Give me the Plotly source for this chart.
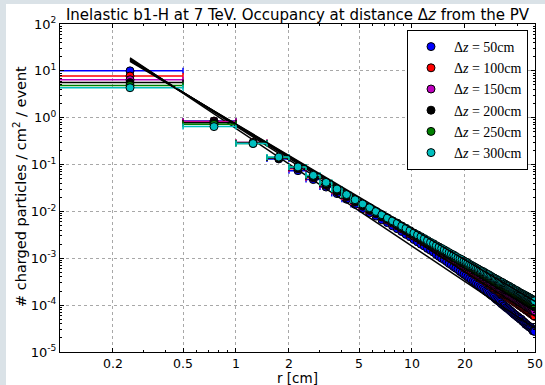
import plotly.graph_objects as go

# ---- data (values are log10 of the occupancy) ----
bin_lo = [0.5 * i for i in range(100)]          # 0.5 cm radial bins, 0 .. 50 cm
bin_half = 0.25
r_centers = [b + bin_half for b in bin_lo]

log10_occ_dz50 = [
    1.00, -0.07, -0.53, -0.88, -1.13, -1.32, -1.48, -1.62, -1.74, -1.85,
    -1.94, -2.03, -2.10, -2.18, -2.24, -2.31, -2.37, -2.43, -2.49, -2.54,
    -2.60, -2.65, -2.70, -2.74, -2.79, -2.83, -2.87, -2.92, -2.96, -3.00,
    -3.03, -3.07, -3.11, -3.14, -3.18, -3.21, -3.24, -3.28, -3.31, -3.34,
    -3.37, -3.40, -3.43, -3.46, -3.49, -3.51, -3.54, -3.57, -3.60, -3.62,
    -3.65, -3.67, -3.70, -3.72, -3.74, -3.77, -3.79, -3.81, -3.83, -3.86,
    -3.88, -3.90, -3.92, -3.94, -3.97, -3.98, -4.01, -4.02, -4.05, -4.06,
    -4.08, -4.10, -4.12, -4.14, -4.16, -4.18, -4.20, -4.21, -4.23, -4.25,
    -4.26, -4.28, -4.30, -4.30, -4.33, -4.35, -4.36, -4.38, -4.41, -4.41,
    -4.43, -4.44, -4.46, -4.47, -4.47, -4.50, -4.52, -4.55, -4.55, -4.56]
log10_occ_dz100 = [
    0.89, -0.08, -0.53, -0.86, -1.09, -1.28, -1.44, -1.57, -1.69, -1.80,
    -1.89, -1.98, -2.05, -2.12, -2.19, -2.25, -2.31, -2.37, -2.42, -2.48,
    -2.53, -2.57, -2.62, -2.66, -2.70, -2.74, -2.78, -2.82, -2.86, -2.89,
    -2.93, -2.96, -2.99, -3.02, -3.05, -3.08, -3.11, -3.14, -3.17, -3.20,
    -3.22, -3.25, -3.27, -3.30, -3.32, -3.35, -3.37, -3.40, -3.42, -3.44,
    -3.46, -3.48, -3.50, -3.53, -3.55, -3.57, -3.59, -3.61, -3.63, -3.65,
    -3.66, -3.68, -3.70, -3.72, -3.74, -3.75, -3.77, -3.79, -3.80, -3.82,
    -3.84, -3.85, -3.87, -3.88, -3.90, -3.91, -3.93, -3.94, -3.96, -3.97,
    -3.99, -4.00, -4.02, -4.03, -4.04, -4.06, -4.07, -4.08, -4.10, -4.11,
    -4.12, -4.13, -4.15, -4.16, -4.17, -4.19, -4.20, -4.21, -4.22, -4.24]
log10_occ_dz150 = [
    0.81, -0.09, -0.54, -0.86, -1.08, -1.27, -1.43, -1.56, -1.68, -1.79,
    -1.88, -1.96, -2.04, -2.10, -2.17, -2.23, -2.29, -2.34, -2.40, -2.45,
    -2.49, -2.54, -2.58, -2.62, -2.66, -2.70, -2.74, -2.78, -2.81, -2.85,
    -2.88, -2.91, -2.94, -2.97, -3.00, -3.03, -3.06, -3.09, -3.11, -3.14,
    -3.16, -3.19, -3.21, -3.23, -3.26, -3.28, -3.30, -3.33, -3.35, -3.37,
    -3.39, -3.41, -3.43, -3.45, -3.47, -3.49, -3.51, -3.53, -3.54, -3.56,
    -3.58, -3.60, -3.61, -3.63, -3.65, -3.66, -3.68, -3.69, -3.71, -3.73,
    -3.74, -3.76, -3.77, -3.78, -3.80, -3.81, -3.83, -3.84, -3.86, -3.87,
    -3.88, -3.90, -3.91, -3.92, -3.94, -3.95, -3.96, -3.97, -3.99, -4.00,
    -4.01, -4.02, -4.03, -4.05, -4.06, -4.07, -4.08, -4.09, -4.10, -4.12]
log10_occ_dz200 = [
    0.75, -0.11, -0.54, -0.86, -1.07, -1.26, -1.42, -1.55, -1.67, -1.78,
    -1.87, -1.96, -2.03, -2.10, -2.16, -2.22, -2.28, -2.34, -2.39, -2.44,
    -2.48, -2.53, -2.57, -2.61, -2.65, -2.69, -2.72, -2.76, -2.79, -2.83,
    -2.86, -2.89, -2.92, -2.95, -2.98, -3.00, -3.03, -3.06, -3.08, -3.11,
    -3.13, -3.16, -3.18, -3.20, -3.22, -3.25, -3.27, -3.29, -3.31, -3.33,
    -3.35, -3.37, -3.39, -3.41, -3.42, -3.44, -3.46, -3.48, -3.50, -3.51,
    -3.53, -3.55, -3.56, -3.58, -3.59, -3.61, -3.62, -3.64, -3.65, -3.67,
    -3.68, -3.70, -3.71, -3.72, -3.74, -3.75, -3.77, -3.78, -3.79, -3.80,
    -3.82, -3.83, -3.84, -3.86, -3.87, -3.88, -3.89, -3.90, -3.92, -3.93,
    -3.94, -3.95, -3.96, -3.97, -3.98, -3.99, -4.00, -4.01, -4.02, -4.04]
log10_occ_dz250 = [
    0.69, -0.14, -0.55, -0.85, -1.05, -1.24, -1.39, -1.53, -1.65, -1.75,
    -1.84, -1.93, -2.01, -2.08, -2.14, -2.21, -2.26, -2.32, -2.37, -2.42,
    -2.47, -2.51, -2.56, -2.60, -2.64, -2.68, -2.71, -2.74, -2.78, -2.81,
    -2.84, -2.87, -2.90, -2.93, -2.96, -2.99, -3.01, -3.04, -3.06, -3.09,
    -3.11, -3.14, -3.16, -3.18, -3.20, -3.22, -3.24, -3.27, -3.28, -3.30,
    -3.32, -3.34, -3.36, -3.38, -3.39, -3.41, -3.43, -3.45, -3.46, -3.48,
    -3.50, -3.51, -3.53, -3.54, -3.56, -3.57, -3.59, -3.60, -3.62, -3.63,
    -3.64, -3.66, -3.67, -3.68, -3.70, -3.71, -3.72, -3.73, -3.75, -3.76,
    -3.77, -3.78, -3.79, -3.81, -3.82, -3.83, -3.84, -3.85, -3.86, -3.87,
    -3.89, -3.89, -3.90, -3.92, -3.93, -3.94, -3.94, -3.96, -3.96, -3.98]
log10_occ_dz300 = [
    0.64, -0.19, -0.55, -0.84, -1.05, -1.23, -1.38, -1.52, -1.64, -1.75,
    -1.84, -1.92, -2.00, -2.07, -2.14, -2.20, -2.25, -2.31, -2.36, -2.41,
    -2.46, -2.50, -2.54, -2.58, -2.62, -2.66, -2.69, -2.73, -2.76, -2.79,
    -2.82, -2.85, -2.88, -2.91, -2.93, -2.96, -2.99, -3.01, -3.03, -3.06,
    -3.08, -3.10, -3.13, -3.15, -3.17, -3.19, -3.21, -3.23, -3.25, -3.27,
    -3.28, -3.30, -3.32, -3.34, -3.35, -3.37, -3.39, -3.41, -3.42, -3.44,
    -3.45, -3.47, -3.48, -3.50, -3.51, -3.52, -3.54, -3.55, -3.57, -3.58,
    -3.59, -3.60, -3.62, -3.63, -3.64, -3.66, -3.67, -3.68, -3.69, -3.70,
    -3.72, -3.73, -3.74, -3.75, -3.76, -3.77, -3.78, -3.79, -3.80, -3.81,
    -3.82, -3.83, -3.84, -3.85, -3.86, -3.87, -3.88, -3.89, -3.90, -3.91]

series_names = ["50", "100", "150", "200", "250", "300"]
series_logs = [log10_occ_dz50, log10_occ_dz100, log10_occ_dz150,
               log10_occ_dz200, log10_occ_dz250, log10_occ_dz300]
series_colors = ["#0000ff", "#ff0000", "#bf00bf", "#000000", "#008000", "#00bfbf"]

# power-law fit lines: endpoints (r, occupancy)
fit_r = [0.25, 50.0]
fit_start = [19.0, 18.0, 17.5, 17.0, 16.5, 16.0]
fit_end = [3.2e-5, 5.8e-5, 7.5e-5, 9.0e-5, 1.05e-4, 1.2e-4]

x_tick_vals = [0.2, 0.5, 1, 2, 5, 10, 20, 50]
x_tick_text = ["0.2", "0.5", "1", "2", "5", "10", "20", "50"]
x_minor_vals = [0.3, 0.4, 0.6, 0.7, 0.8, 0.9, 3, 4, 6, 7, 8, 9, 30, 40]
y_exps = [-5, -4, -3, -2, -1, 0, 1, 2]

fig = go.Figure()
for name, logs, col, s0, s1 in zip(series_names, series_logs, series_colors,
                                     fit_start, fit_end):
    assert len(logs) == len(r_centers)
    occ = [10 ** v for v in logs]
    minus = [bin_half] * len(r_centers)
    minus[0] = 0.2  # first bin starts at r=0 (off the log axis)
    fig.add_trace(go.Scatter(
        x=r_centers, y=occ, mode="markers",
        name="Δ<i>z</i> = " + name + "cm",
        marker=dict(symbol="circle", size=8, color=col,
                    line=dict(color="black", width=1)),
        error_x=dict(type="data", symmetric=False, array=[bin_half] * len(r_centers),
                     arrayminus=minus, color=col, thickness=1.5, width=3),
    ))
    fig.add_trace(go.Scatter(
        x=fit_r, y=[s0, s1], mode="lines", showlegend=False,
        line=dict(color="black", width=1.5), hoverinfo="skip",
    ))

L, R, T, B = 60, 10, 24, 33
W, H = 545, 385
pw, ph = W - L - R, H - T - B

def px_x(p):
    return (p - L) / pw

def px_y(p):
    return (H - B - p) / ph

gray = "#dae2e7"
fig.update_layout(
    width=W, height=H,
    margin=dict(l=L, r=R, t=T, b=B, autoexpand=False),
    paper_bgcolor="white", plot_bgcolor="white",
    font=dict(family="DejaVu Sans", size=13, color="black"),
    title=dict(text="Inelastic b1-H at 7 TeV. Occupancy at distance Δ<i>z</i> from the PV",
               x=0.5, xref="paper", xanchor="center",
               y=1 - 14.5 / H, yref="container", yanchor="middle",
               font=dict(family="DejaVu Sans", size=15, color="black")),
    showlegend=True,
    legend=dict(x=px_x(528), xanchor="right", y=px_y(30), yanchor="top",
                bgcolor="white", bordercolor="black", borderwidth=1,
                font=dict(family="Liberation Serif", size=14, color="black"),
                itemwidth=36),
    xaxis=dict(type="log", range=[-1, 1.69897],
               tickmode="array", tickvals=x_tick_vals, ticktext=x_tick_text,
               ticks="inside", ticklen=4, tickcolor="black",
               showline=True, linecolor="black", linewidth=1, mirror="ticks",
               showgrid=True, gridcolor="#a8a8a8", griddash="dot", gridwidth=1,
               zeroline=False, tickfont=dict(size=12.5),
               minor=dict(tickvals=x_minor_vals, ticks="inside", ticklen=2,
                          tickcolor="black", showgrid=False)),
    yaxis=dict(type="log", range=[-5, 2],
               tickmode="array", tickvals=[10.0 ** e for e in y_exps],
               ticktext=["10<sup>%s</sup>" % e for e in y_exps],
               ticks="inside", ticklen=4, tickcolor="black",
               showline=True, linecolor="black", linewidth=1, mirror="ticks",
               showgrid=True, gridcolor="#a8a8a8", griddash="dot", gridwidth=1,
               zeroline=False, tickfont=dict(size=13),
               minor=dict(tickvals=[m * 10.0 ** e for e in y_exps[:-1] for m in range(2, 10)],
                          ticks="inside", ticklen=2, tickcolor="black", showgrid=False)),
    shapes=[
        dict(type="rect", xref="paper", yref="paper", layer="below",
             x0=px_x(0), x1=px_x(6), y0=px_y(H), y1=px_y(0),
             fillcolor=gray, line=dict(width=0)),
        dict(type="rect", xref="paper", yref="paper", layer="below",
             x0=px_x(0), x1=px_x(W), y0=px_y(4), y1=px_y(0),
             fillcolor=gray, line=dict(width=0)),
    ],
    annotations=[
        dict(text="# charged particles / cm<sup>2</sup> / event", textangle=-90,
             xref="paper", yref="paper", x=px_x(20), y=px_y(187),
             xanchor="center", yanchor="middle", showarrow=False,
             font=dict(family="DejaVu Sans", size=14.5)),
        dict(text="r [cm]", xref="paper", yref="paper", x=0.5, y=px_y(378),
             xanchor="center", yanchor="middle", showarrow=False,
             font=dict(family="DejaVu Sans", size=13.5)),
    ],
)

fig.write_html("out.html")
